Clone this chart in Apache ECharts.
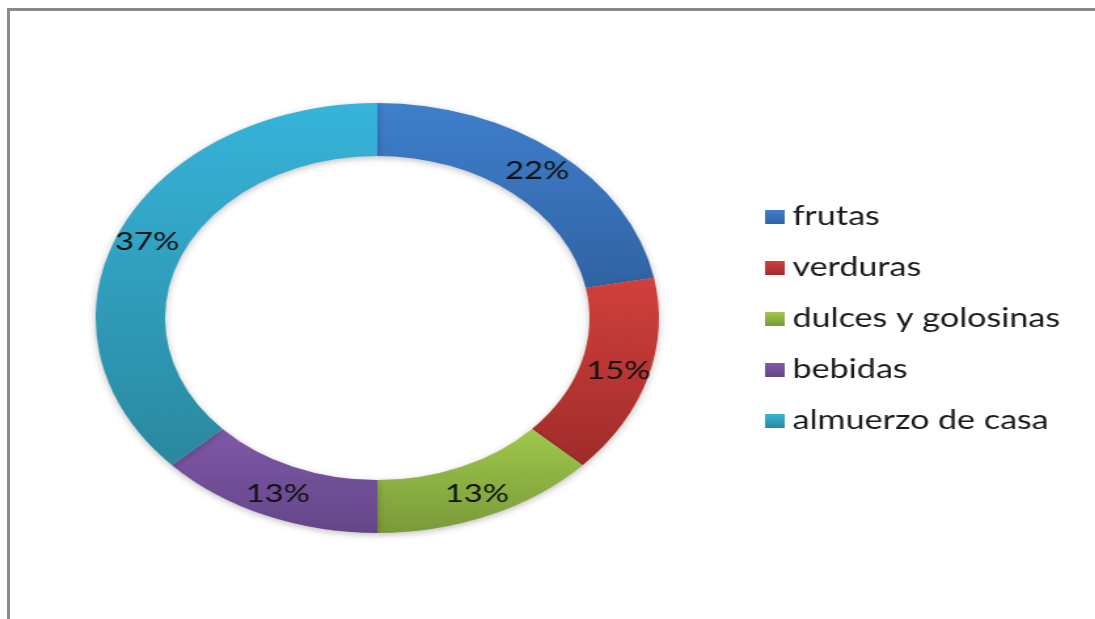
<!DOCTYPE html>
<html>
<head>
<meta charset="utf-8">
<script src="https://cdn.jsdelivr.net/npm/echarts@6/dist/echarts.min.js"></script>
<style>
  html, body { margin: 0; padding: 0; background: #fff; overflow: hidden; }
  #frame {
    position: absolute; left: 7px; top: 8px; width: 1100px; height: 620px;
    border-top: 3px solid #8a8a8a; border-left: 3px solid #8a8a8a;
  }
  /* the original picture is stretched sideways, so the chart is too */
  #chart {
    position: absolute; left: 0; top: 0; width: 836px; height: 619px;
    transform: scaleX(1.31); transform-origin: 0 0;
  }
</style>
</head>
<body>
<div id="frame"></div>
<div id="chart"></div>
<script>
const categories = ["frutas", "verduras", "dulces y golosinas", "bebidas", "almuerzo de casa"];
const values = [22, 15, 13, 13, 37];

// top / bottom shade of each slice
const shades = [
  ["#3f7fcd", "#3163a3"],
  ["#d1403c", "#a02c2b"],
  ["#9fc84b", "#7a9a3a"],
  ["#8059a9", "#634688"],
  ["#37b4da", "#2a889f"],
];

let myChart = echarts.init(document.getElementById("chart"));

let option = {
  animation: false,
  legend: {
    orient: "vertical",
    left: 579,
    top: 199,
    itemWidth: 15,
    itemHeight: 14,
    itemGap: 25,
    icon: "rect",
    data: categories,
    textStyle: {
      fontFamily: "Lato",
      fontSize: 26,
      lineHeight: 26,
      color: "#1a1a1a",
      padding: [0, 0, 0, 1],
    },
  },
  series: [
    {
      type: "pie",
      center: [288, 318],
      radius: [162, 215],
      startAngle: 90,
      avoidLabelOverlap: false,
      label: {
        position: "inside",
        formatter: "{c}%",
        fontFamily: "Lato",
        fontSize: 25,
        color: "#111",
      },
      labelLine: { show: false },
      itemStyle: {
        borderWidth: 0,
        shadowBlur: 6,
        shadowColor: "rgba(0,0,0,0.25)",
        shadowOffsetY: 2,
      },
      emphasis: { disabled: true },
      data: categories.map(function (name, i) {
        return {
          name: name,
          value: values[i],
          itemStyle: {
            color: new echarts.graphic.LinearGradient(0, 0, 0, 1, [
              { offset: 0, color: shades[i][0] },
              { offset: 1, color: shades[i][1] },
            ]),
          },
        };
      }),
    },
  ],
};

myChart.setOption(option);
</script>
</body>
</html>
